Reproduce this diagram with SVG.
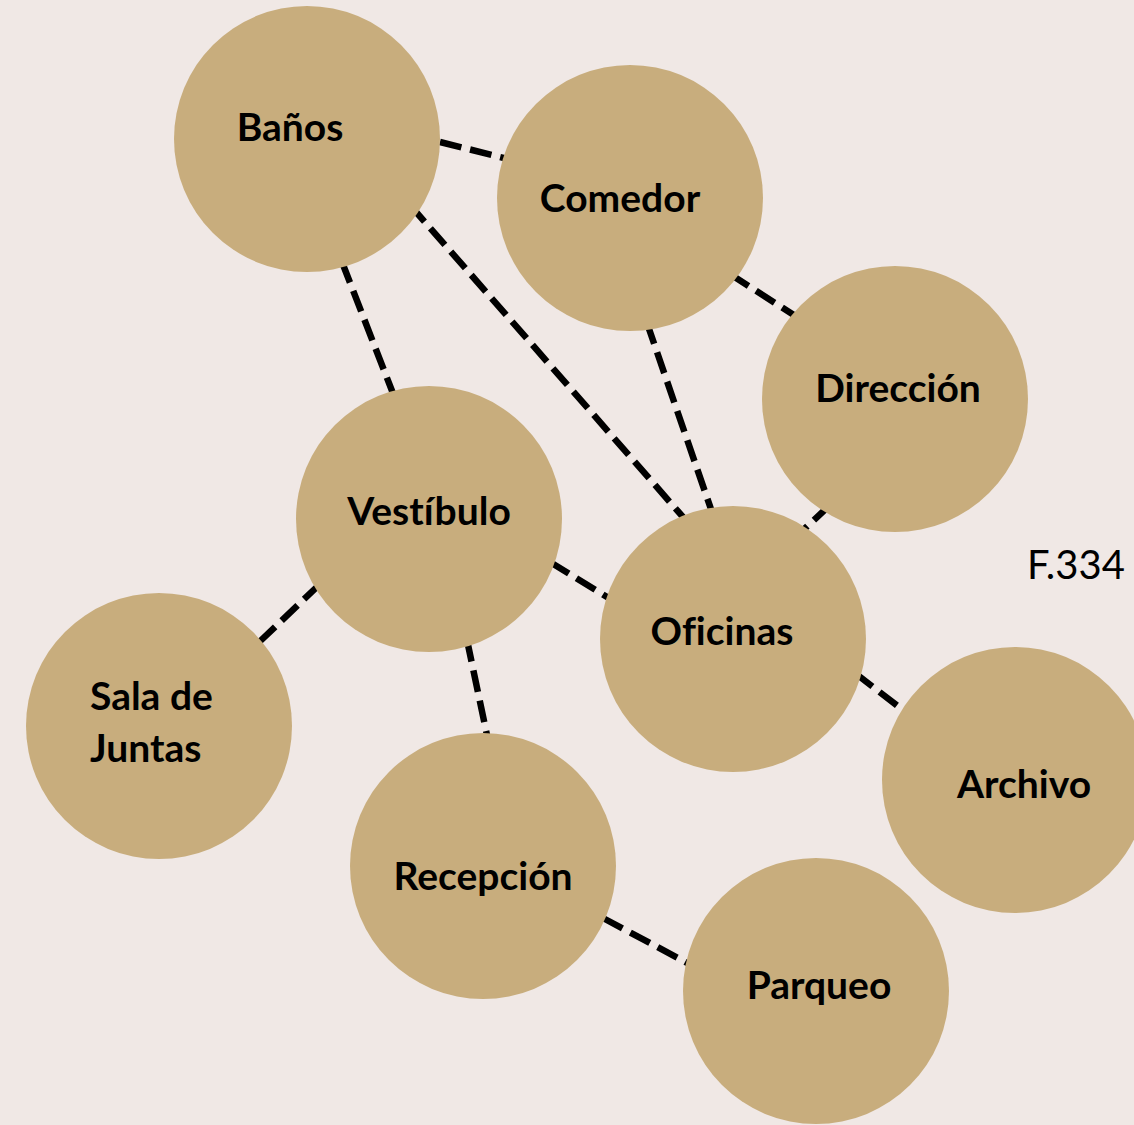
<svg xmlns="http://www.w3.org/2000/svg" width="1134" height="1125" viewBox="0 0 1134 1125">
<style>
.bg{fill:#F0E8E5}
.n{fill:#C8AD7D}
.c line{stroke:#000;stroke-width:6.5;stroke-dasharray:22 9}
.t{font-family:Lato,"Open Sans",sans-serif;font-weight:bold;font-size:39px;fill:#000;text-anchor:middle;font-variant-ligatures:none}
.f{font-family:Lato,"Open Sans",sans-serif;font-size:40px;fill:#000}
</style>
<rect class="bg" width="1134" height="1125"/>
<g class="c">
<line x1="440" y1="142" x2="508" y2="159"/>
<line x1="410" y1="205" x2="690" y2="525"/>
<line x1="342" y1="262" x2="394" y2="396"/>
<line x1="647" y1="323" x2="713" y2="515"/>
<line x1="730" y1="274" x2="800" y2="319"/>
<line x1="830" y1="505" x2="800" y2="533"/>
<line x1="550" y1="562" x2="612" y2="600"/>
<line x1="320" y1="584" x2="254" y2="647"/>
<line x1="467" y1="640" x2="488" y2="740"/>
<line x1="855" y1="673" x2="908" y2="714"/>
<line x1="603" y1="918" x2="693" y2="966"/>
</g>
<g id="banos"><circle class="n" cx="307" cy="139" r="133"/><text class="t" x="290" y="141">Baños</text></g>
<g id="comedor"><circle class="n" cx="630" cy="198" r="133"/><text class="t" x="620" y="212">Comedor</text></g>
<g id="direccion"><circle class="n" cx="895" cy="399" r="133"/><text class="t" x="898" y="402">Dirección</text></g>
<g id="vestibulo"><circle class="n" cx="429" cy="519" r="133"/><text class="t" x="429" y="525">Vestíbulo</text></g>
<g id="oficinas"><circle class="n" cx="733" cy="639" r="133"/><text class="t" x="722" y="645">Oficinas</text></g>
<g id="sala"><circle class="n" cx="159" cy="726" r="133"/><text class="t" style="text-anchor:start" x="90" y="710">Sala de</text><text class="t" style="text-anchor:start" x="90" y="762">Juntas</text></g>
<g id="archivo"><circle class="n" cx="1015" cy="780" r="133"/><text class="t" x="1024" y="798">Archivo</text></g>
<g id="recepcion"><circle class="n" cx="483" cy="866" r="133"/><text class="t" x="483" y="890">Recepción</text></g>
<g id="parqueo"><circle class="n" cx="816" cy="991" r="133"/><text class="t" x="819" y="999">Parqueo</text></g>
<text class="f" x="1027" y="579">F.334</text>
</svg>
